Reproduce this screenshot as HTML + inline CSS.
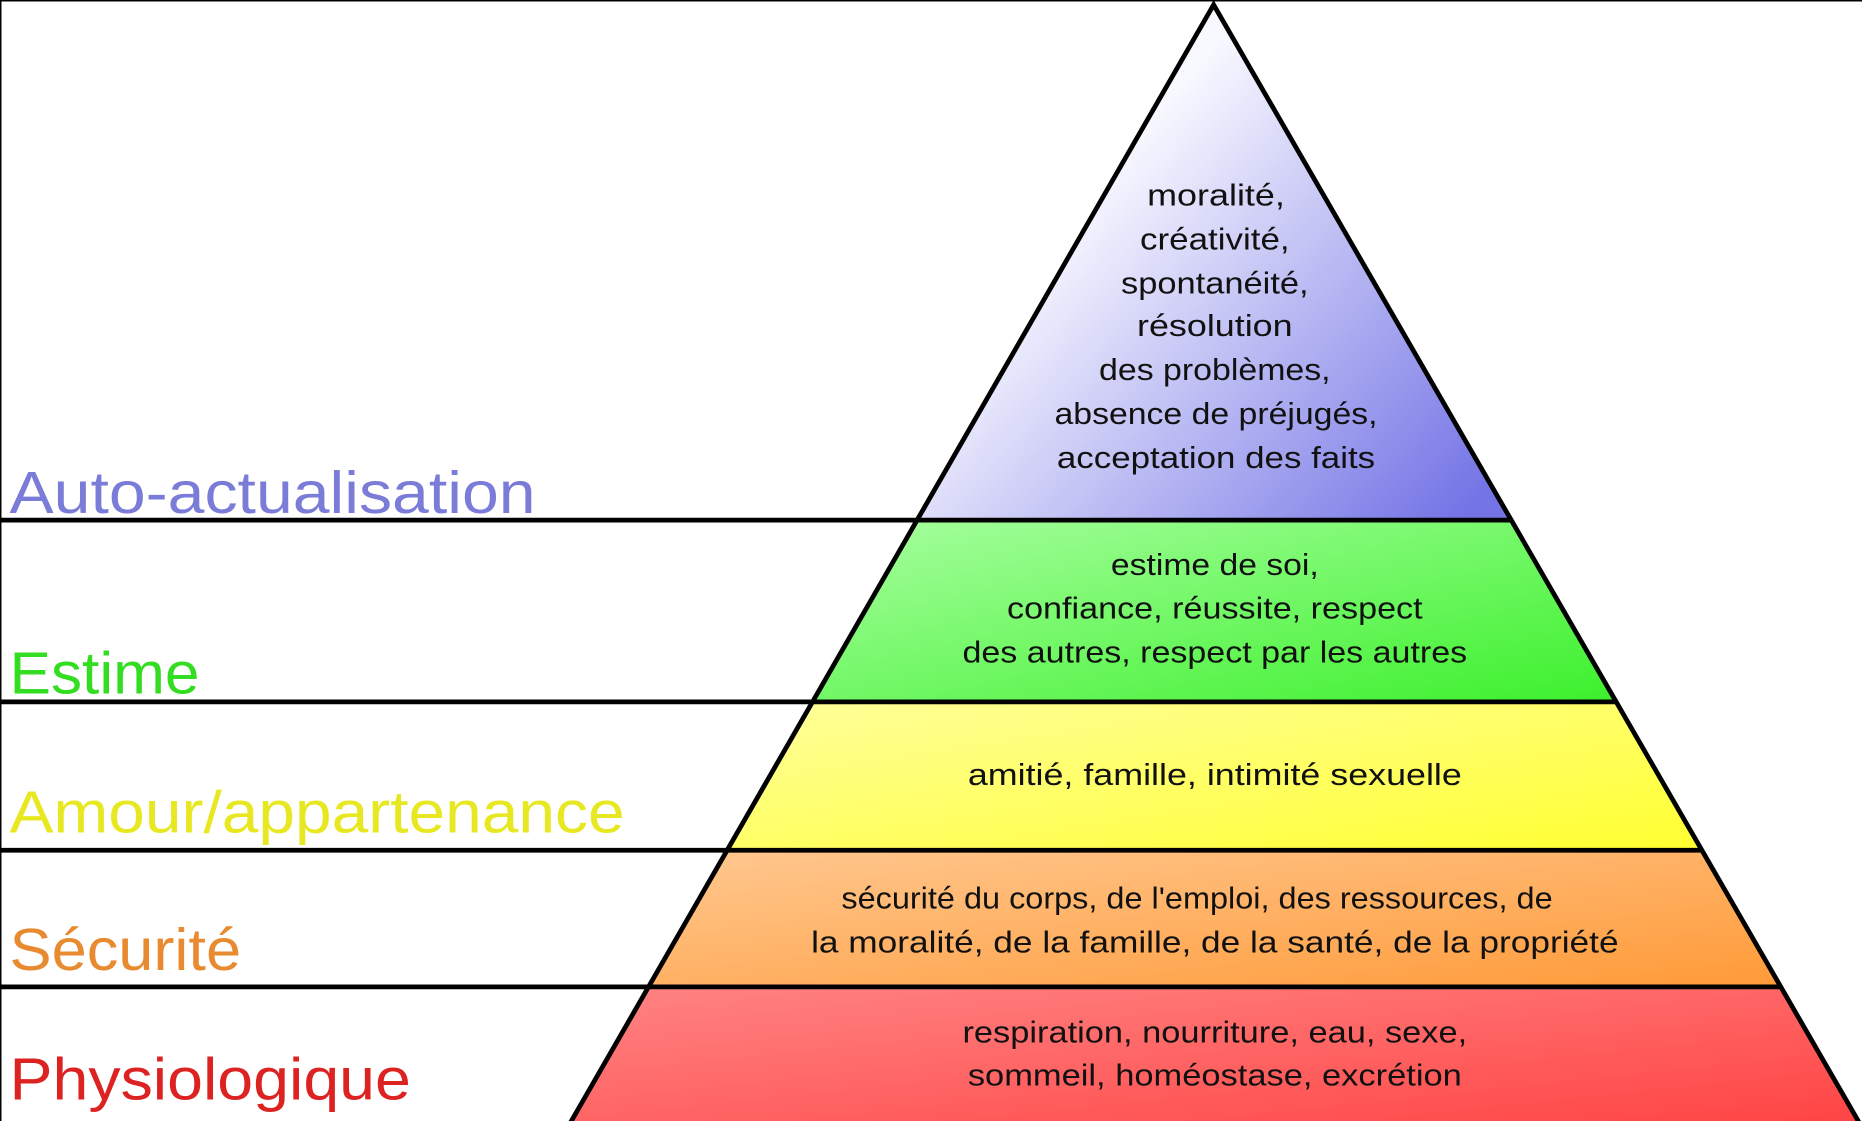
<!DOCTYPE html>
<html><head><meta charset="utf-8"><style>
html,body{margin:0;padding:0;background:#fff;width:1862px;height:1121px;overflow:hidden}
svg{display:block}
text{font-family:"Liberation Sans","DejaVu Sans",sans-serif}
</style></head><body>
<svg width="1862" height="1121" viewBox="0 0 1568 944" xmlns="http://www.w3.org/2000/svg">
<defs>
<linearGradient id="g1" x1="0.25" y1="0.4" x2="0.95" y2="0.95"><stop offset="0" stop-color="#f8f8ff"/><stop offset="1" stop-color="#7474e6"/></linearGradient>
<linearGradient id="g2" x1="0" y1="0" x2="1" y2="1"><stop offset="0" stop-color="#a8ffa0"/><stop offset="1" stop-color="#3cf02c"/></linearGradient>
<linearGradient id="g3" x1="0" y1="0" x2="1" y2="1"><stop offset="0" stop-color="#ffff9c"/><stop offset="1" stop-color="#ffff30"/></linearGradient>
<linearGradient id="g4" x1="0" y1="0" x2="1" y2="1"><stop offset="0" stop-color="#ffc890"/><stop offset="1" stop-color="#ff9a38"/></linearGradient>
<linearGradient id="g5" x1="0" y1="0" x2="1" y2="1"><stop offset="0" stop-color="#ff8484"/><stop offset="1" stop-color="#ff4444"/></linearGradient>
</defs>
<polygon points="1022,4 773,438 1272,438" fill="url(#g1)"/>
<polygon points="773,438 1272,438 1360,591 685,591" fill="url(#g2)"/>
<polygon points="685,591 1360,591 1432,716 612,716" fill="url(#g3)"/>
<polygon points="612,716 1432,716 1500,831 546,831" fill="url(#g4)"/>
<polygon points="546,831 1500,831 1566,946 480,946" fill="url(#g5)"/>
<g stroke="#000" stroke-width="4" fill="none">
<polyline points="480,946 1022,4 1566,946"/>
<line x1="0" y1="438" x2="1272" y2="438"/>
<line x1="0" y1="591" x2="1360" y2="591"/>
<line x1="0" y1="716" x2="1432" y2="716"/>
<line x1="0" y1="831" x2="1500" y2="831"/>
<line x1="0.5" y1="0" x2="0.5" y2="944" stroke-width="1.5"/>
<line x1="0" y1="0.5" x2="1568" y2="0.5" stroke-width="1.5"/>
</g>
<g font-size="50">
<text x="8" y="432" fill="#7b7bd8" textLength="443" lengthAdjust="spacingAndGlyphs">Auto-actualisation</text>
<text x="8" y="584" fill="#33dd22" textLength="160" lengthAdjust="spacingAndGlyphs">Estime</text>
<text x="8" y="701" fill="#e8e822" textLength="518" lengthAdjust="spacingAndGlyphs">Amour/appartenance</text>
<text x="8" y="817" fill="#e88a30" textLength="195" lengthAdjust="spacingAndGlyphs">Sécurité</text>
<text x="8" y="926" fill="#dd2222" textLength="338" lengthAdjust="spacingAndGlyphs">Physiologique</text>
</g>
<g font-size="26" text-anchor="middle" fill="#111">
<text x="1024" y="173" textLength="116" lengthAdjust="spacingAndGlyphs">moralité,</text>
<text x="1023" y="210" textLength="126" lengthAdjust="spacingAndGlyphs">créativité,</text>
<text x="1023" y="247" textLength="158" lengthAdjust="spacingAndGlyphs">spontanéité,</text>
<text x="1023" y="283" textLength="131" lengthAdjust="spacingAndGlyphs">résolution</text>
<text x="1023" y="320" textLength="195" lengthAdjust="spacingAndGlyphs">des problèmes,</text>
<text x="1024" y="357" textLength="272" lengthAdjust="spacingAndGlyphs">absence de préjugés,</text>
<text x="1024" y="394" textLength="268" lengthAdjust="spacingAndGlyphs">acceptation des faits</text>
<text x="1023" y="484" textLength="175" lengthAdjust="spacingAndGlyphs">estime de soi,</text>
<text x="1023" y="521" textLength="350" lengthAdjust="spacingAndGlyphs">confiance, réussite, respect</text>
<text x="1023" y="558" textLength="425" lengthAdjust="spacingAndGlyphs">des autres, respect par les autres</text>
<text x="1023" y="661" textLength="416" lengthAdjust="spacingAndGlyphs">amitié, famille, intimité sexuelle</text>
<text x="1008" y="765" textLength="599" lengthAdjust="spacingAndGlyphs">sécurité du corps, de l'emploi, des ressources, de</text>
<text x="1023" y="802" textLength="680" lengthAdjust="spacingAndGlyphs">la moralité, de la famille, de la santé, de la propriété</text>
<text x="1023" y="878" textLength="425" lengthAdjust="spacingAndGlyphs">respiration, nourriture, eau, sexe,</text>
<text x="1023" y="914" textLength="416" lengthAdjust="spacingAndGlyphs">sommeil, homéostase, excrétion</text>
</g>
</svg>
</body></html>
